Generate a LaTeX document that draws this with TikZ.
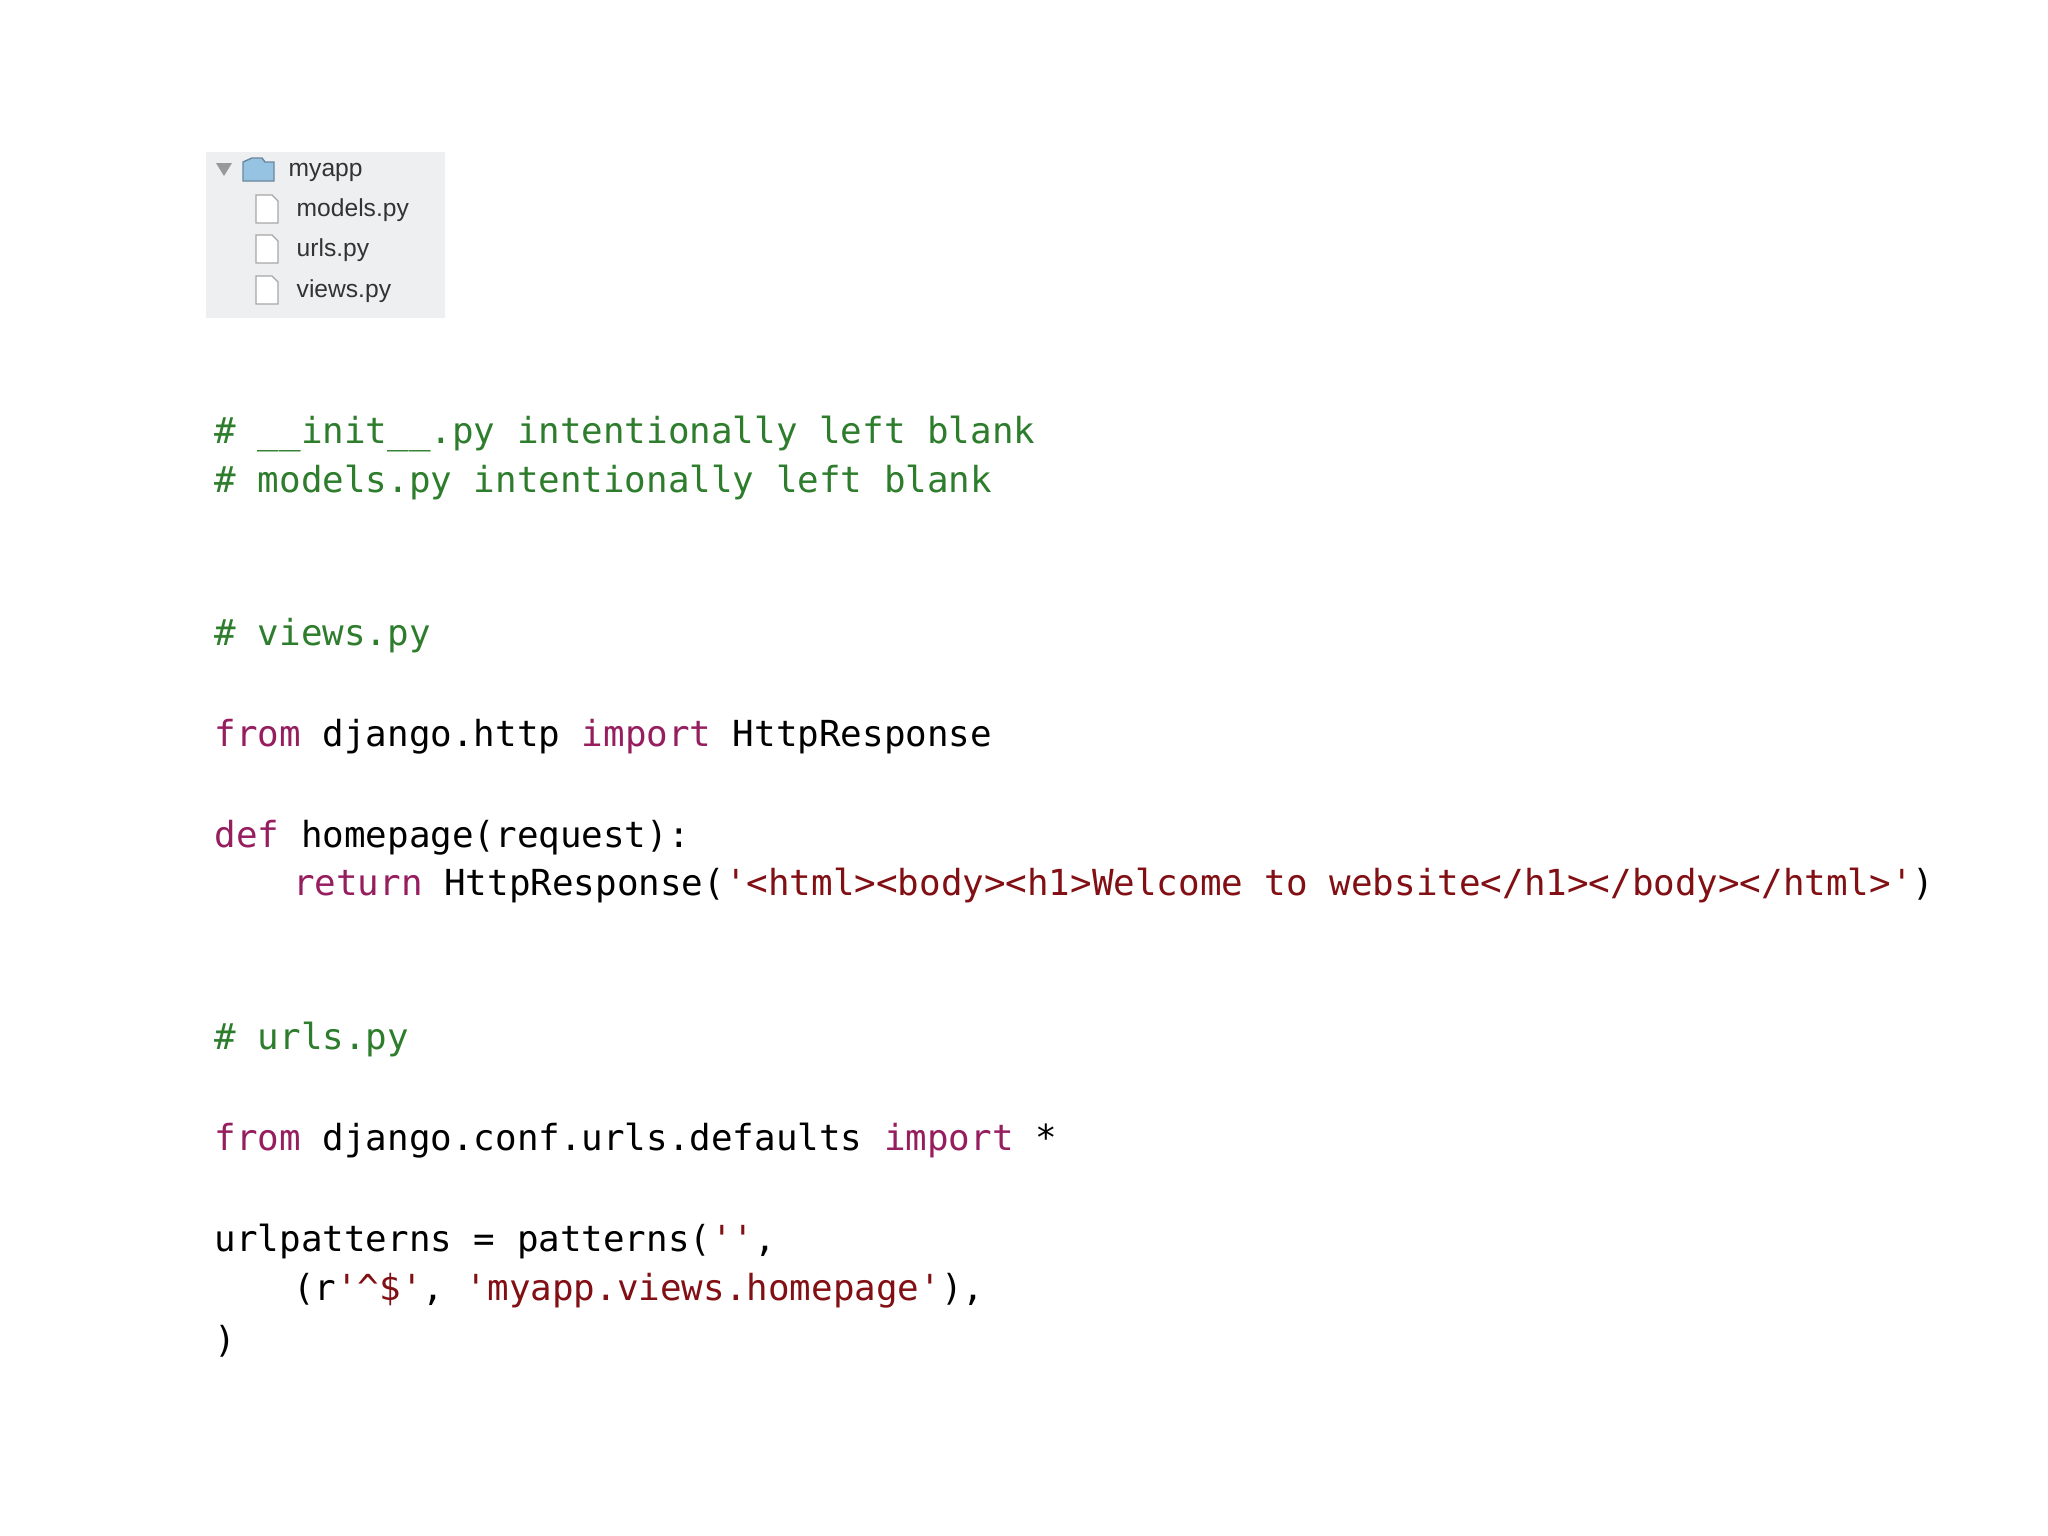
\documentclass[tikz,border=0pt]{standalone}
\usepackage{fontspec}
\setmonofont{DejaVu Sans Mono}
\setsansfont{Liberation Sans}
\definecolor{cgreen}{RGB}{45,125,45}
\definecolor{ckw}{RGB}{150,30,95}
\definecolor{cstr}{RGB}{130,15,20}
\definecolor{finderbg}{RGB}{238,239,241}
\definecolor{foldercol}{RGB}{150,195,225}
\begin{document}
\begin{tikzpicture}[x=0.01cm,y=-0.01cm,
  code/.style={anchor=base west,inner sep=0pt,font=\ttfamily\fontsize{10.2pt}{12pt}\selectfont},
  ftext/.style={anchor=base west,inner sep=0pt,font=\sffamily\fontsize{7pt}{8pt}\selectfont,text=black!80},
  fileicon/.style={draw=black!35,fill=white,line width=0.4pt}]
\useasboundingbox (0,0) rectangle (2048,1536);
\fill[white] (0,0) rectangle (2048,1536);
% finder
\fill[finderbg] (206,152) rectangle (445,318);
\fill[black!40] (216,163) -- (232,163) -- (224,176) -- cycle;
\filldraw[draw=foldercol!70!black,fill=foldercol] (243,162) -- (252,158) -- (262,158) -- (265,162) -- (274,162) -- (274,181) -- (243,181) -- cycle;
\node[ftext] (myapp) at (288,176) {myapp};
\foreach \y/\t/\n in {216/models.py/fm,256/urls.py/fu,297/views.py/fv}{
  \draw[fileicon] (256,\y-21) -- (272,\y-21) -- (278,\y-15) -- (278,\y+7) -- (256,\y+7) -- cycle;
  \node[ftext] (\n) at (296,\y) {\t};
}
% code
\node[code,text=cgreen] (l1) at (214,443) {\# \_\_init\_\_.py intentionally left blank};
\node[code,text=cgreen] (l2) at (214,492) {\# models.py intentionally left blank};
\node[code,text=cgreen] (l3) at (214,645) {\# views.py};
\node[code] (l4) at (214,746) {\textcolor{ckw}{from} django.http \textcolor{ckw}{import} HttpResponse};
\node[code] (l5) at (214,847) {\textcolor{ckw}{def} homepage(request):};
\node[code] (l6) at (214,895) {\hspace*{4ex}\textcolor{ckw}{return} HttpResponse(\textcolor{cstr}{'<html><body><h1>Welcome to website</h1></body></html>'})};
\node[code,text=cgreen] (l7) at (214,1049) {\# urls.py};
\node[code] (l8) at (214,1150) {\textcolor{ckw}{from} django.conf.urls.defaults \textcolor{ckw}{import} *};
\node[code] (l9) at (214,1251) {urlpatterns = patterns(\textcolor{cstr}{''},};
\node[code] (l10) at (214,1300) {\hspace*{4ex}(r\textcolor{cstr}{'\^{}\$'}, \textcolor{cstr}{'myapp.views.homepage'}),};
\node[code] (l11) at (214,1352) {)};
\end{tikzpicture}
\end{document}
